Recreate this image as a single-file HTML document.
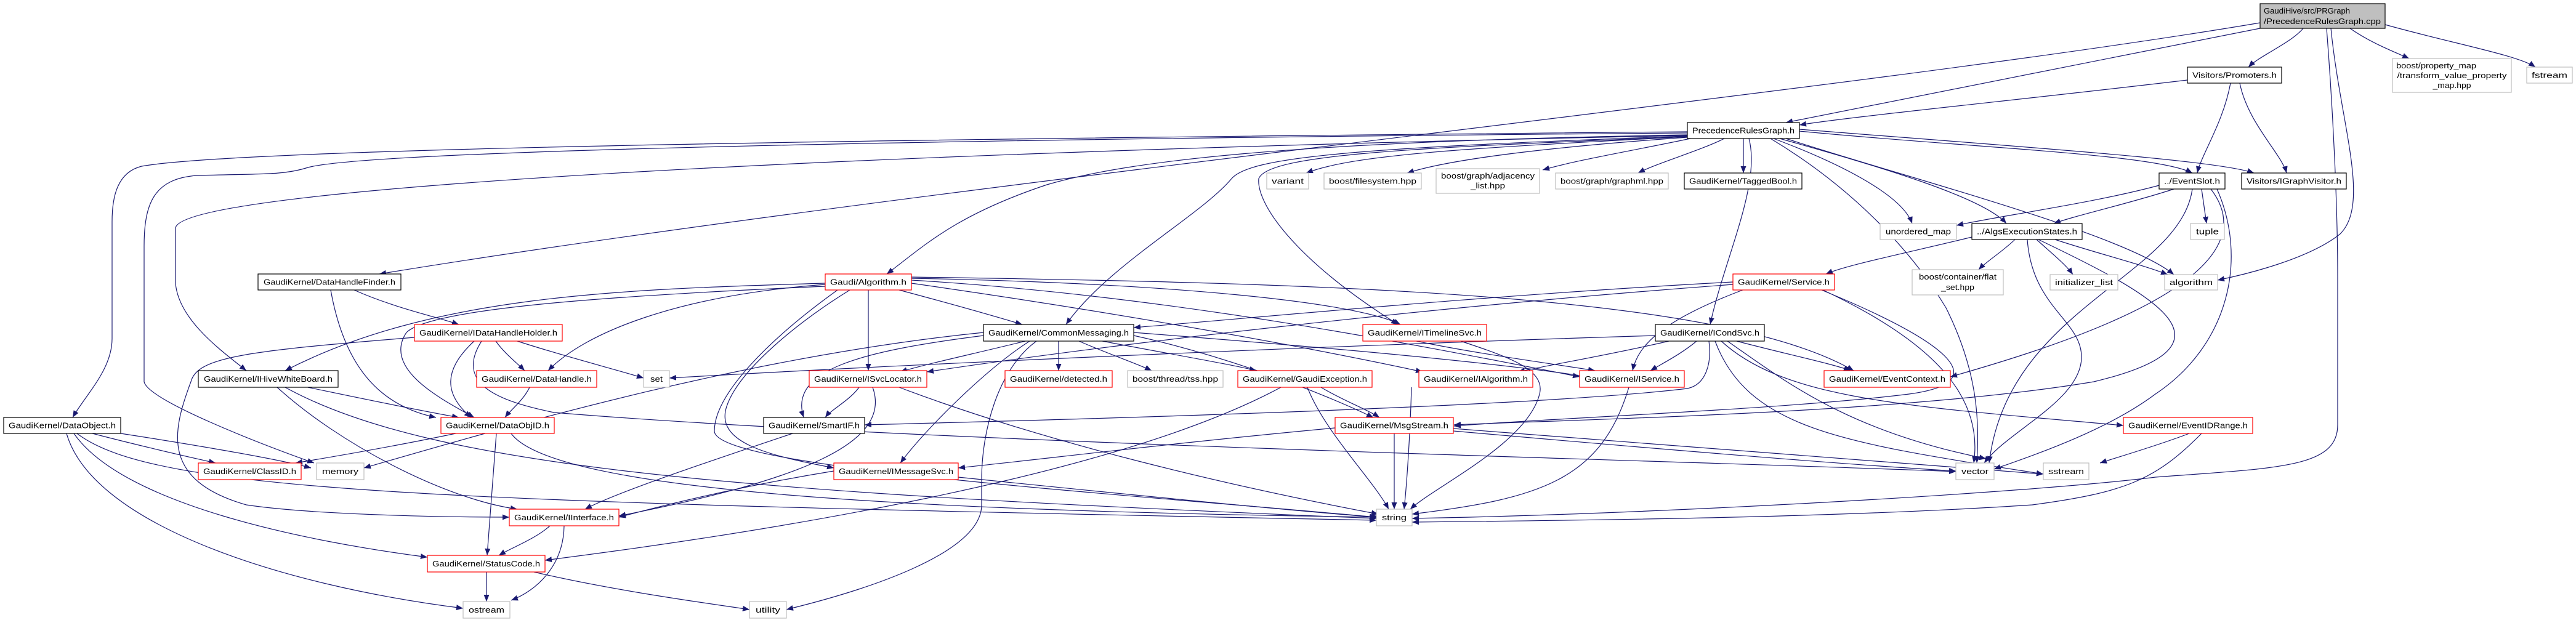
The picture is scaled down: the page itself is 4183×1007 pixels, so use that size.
<!DOCTYPE html>
<html><head><meta charset="utf-8"><style>
html,body{margin:0;padding:0;background:#fff;}
svg{display:block;}
text{font-family:"Liberation Sans","DejaVu Sans",sans-serif;font-size:13px;fill:#000;}
.e{fill:none;stroke:#191970;stroke-width:1.2;marker-end:url(#a);}
.r{fill:#fff;stroke:#ff0000;stroke-width:1.2;}
.b{fill:#fff;stroke:#000;stroke-width:1.2;}
.g{fill:#fff;stroke:#bfbfbf;stroke-width:1.2;}
</style></head><body>
<svg width="4183" height="1007" viewBox="0 0 4183 1007" xmlns="http://www.w3.org/2000/svg">
<defs><marker id="a" markerUnits="userSpaceOnUse" markerWidth="12" markerHeight="9" refX="11" refY="4.5" orient="auto"><path d="M0,0 L11,4.5 L0,9 z" fill="#191970"/></marker></defs>
<g>
<!-- root -->
<path class="e" d="M3740,46 C3720,70 3670,90 3651,109"/>
<path class="e" d="M3816,46 C3850,70 3890,85 3912,95"/>
<path class="e" d="M3873,40 C3980,70 4090,90 4117,109"/>
<path class="e" d="M3785,46 C3800,200 3850,330 3800,380 C3750,420 3650,445 3601,455"/>
<path class="e" d="M3778,46 C3790,200 3796,350 3796,450 L3796,690 C3796,760 3700,760 3500,775 C3300,800 2700,835 2293,842"/>
<path class="e" d="M3670,46 L2900,199"/>
<path class="e" d="M3670,37 C3000,150 1500,300 616,445"/>
<!-- promoters -->
<path class="e" d="M3552,130 C3300,160 3000,190 2922,203"/>
<path class="e" d="M3622,135 C3610,200 3575,250 3568,281"/>
<path class="e" d="M3637,135 C3650,200 3705,250 3713,281"/>
<!-- PRG -->
<path class="e" d="M2740,222 C2400,240 2200,250 2121,281"/>
<path class="e" d="M2740,223 C2500,240 2350,260 2285,281"/>
<path class="e" d="M2745,225 C2650,245 2560,260 2505,276"/>
<path class="e" d="M2800,225 C2760,245 2690,265 2660,281"/>
<path class="e" d="M2831,225 L2831,281"/>
<path class="e" d="M2922,213 C3200,240 3500,250 3560,281"/>
<path class="e" d="M2922,210 C3300,240 3600,260 3660,281"/>
<path class="e" d="M2880,225 C3000,270 3090,320 3105,363"/>
<path class="e" d="M2890,225 C3050,270 3220,320 3258,363"/>
<path class="e" d="M2900,225 C3100,290 3450,380 3530,446"/>
<path class="e" d="M2875,225 C3000,300 3100,400 3160,500 C3210,600 3215,680 3210,752"/>
<path class="e" d="M2840,225 C2860,300 2800,420 2777,527"/>
<path class="e" d="M2740,222 C2300,240 2060,250 2044,290 C2040,330 2100,420 2270,527"/>
<path class="e" d="M2740,221 C2200,240 2030,255 2000,290 C1950,350 1800,430 1731,527"/>
<path class="e" d="M2740,219 C2100,230 1837,260 1700,300 C1550,350 1500,400 1440,445"/>
<path class="e" d="M2740,214 C1500,225 400,240 230,270 C190,280 182,320 182,360 L182,550 C182,600 140,640 118,678"/>
<path class="e" d="M2740,216 C1500,226 600,245 500,272 C460,285 420,282 320,285 C250,290 234,330 234,400 L234,620 C240,650 420,720 510,752"/>
<path class="e" d="M2740,220 C1500,245 300,300 285,370 L285,460 C290,520 360,570 400,602"/>
<!-- EventSlot -->
<path class="e" d="M3510,300 C3400,330 3250,350 3177,366"/>
<path class="e" d="M3530,307 C3460,330 3370,350 3335,363"/>
<path class="e" d="M3575,307 L3583,363"/>
<path class="e" d="M3560,307 C3540,450 3260,500 3230,752"/>
<path class="e" d="M3590,307 C3700,450 3350,560 3167,612"/>
<path class="e" d="M3600,307 C3650,420 3620,560 3500,640 C3420,700 3300,740 3238,762"/>
<!-- AES -->
<path class="e" d="M3272,389 C3250,410 3225,425 3213,438"/>
<path class="e" d="M3307,389 C3330,410 3355,430 3366,446"/>
<path class="e" d="M3337,389 C3400,410 3480,430 3520,446"/>
<path class="e" d="M3292,389 C3300,500 3380,520 3380,580 C3380,650 3260,700 3222,752"/>
<path class="e" d="M3202,385 C3100,410 3000,430 2965,445"/>
<path class="e" d="M3310,389 C3500,480 3650,560 3400,620 C3100,670 2600,680 2361,690"/>
<!-- Service -->
<path class="e" d="M2814,458 C2400,480 2000,520 1841,532"/>
<path class="e" d="M2814,462 C2300,500 1800,560 1505,604"/>
<path class="e" d="M2830,471 C2700,520 2660,560 2651,602"/>
<path class="e" d="M2958,471 C3150,550 3250,620 3100,640 C2900,665 2500,680 2361,692"/>
<path class="e" d="M2960,471 C3150,560 3220,650 3205,752"/>
<!-- ICS -->
<path class="e" d="M2755,554 C2730,575 2700,590 2680,602"/>
<path class="e" d="M2710,554 C2620,575 2520,592 2465,604"/>
<path class="e" d="M2820,554 C2900,575 2980,592 3005,602"/>
<path class="e" d="M2688,545 C2200,560 1500,590 1087,614"/>
<path class="e" d="M2775,554 C2780,590 2770,625 2740,631 C2500,660 1800,680 1404,690"/>
<path class="e" d="M2785,554 C2840,700 3000,720 3318,770"/>
<path class="e" d="M2795,554 C2900,650 3100,660 3448,691"/>
<path class="e" d="M2805,554 C2900,620 3000,700 3225,745"/>
<!-- ITL -->
<path class="e" d="M2300,554 C2400,575 2530,592 2590,602"/>
<path class="e" d="M2372,554 C2450,580 2510,600 2500,640 C2480,720 2330,790 2290,827"/>
<!-- Algorithm -->
<path class="e" d="M1460,471 C1550,495 1620,515 1660,527"/>
<path class="e" d="M1410,471 L1410,602"/>
<path class="e" d="M1340,460 C1000,470 700,480 463,602"/>
<path class="e" d="M1340,465 C1000,480 700,500 660,540 C620,600 720,650 770,678"/>
<path class="e" d="M1340,462 C1100,480 950,540 890,602"/>
<path class="e" d="M1380,471 C1300,520 1200,600 1180,660 C1160,720 1250,740 1354,760"/>
<path class="e" d="M1480,460 C1900,520 2200,580 2310,604"/>
<path class="e" d="M1480,455 C1900,480 2300,560 2565,612"/>
<path class="e" d="M1480,452 C1900,460 2200,490 2274,527"/>
<path class="e" d="M1480,450 C2200,460 2800,480 3010,602"/>
<path class="e" d="M1360,471 C1250,550 1160,640 1160,700 C1160,760 1800,800 2235,840"/>
<!-- IDHH -->
<path class="e" d="M805,554 C820,575 840,590 852,602"/>
<path class="e" d="M840,554 C920,580 1000,600 1045,614"/>
<path class="e" d="M770,554 C720,600 720,640 765,678"/>
<path class="e" d="M673,548 C400,570 320,580 310,620 C280,700 260,780 400,820 C500,835 700,840 827,840"/>
<path class="e" d="M782,554 C740,620 800,650 900,670 C1500,720 2800,750 3176,766"/>
<!-- DHF -->
<path class="e" d="M575,471 C640,500 710,515 745,527"/>
<path class="e" d="M537,471 C560,600 620,660 708,678"/>
<!-- IHWB -->
<path class="e" d="M500,629 C600,650 700,670 745,678"/>
<path class="e" d="M450,629 C550,720 720,810 840,827"/>
<path class="e" d="M463,629 C700,760 1200,800 2235,842"/>
<!-- DH -->
<path class="e" d="M860,629 C850,650 830,665 820,678"/>
<!-- DO -->
<path class="e" d="M150,704 C250,730 320,745 350,752"/>
<path class="e" d="M196,704 C300,720 450,745 505,760"/>
<path class="e" d="M120,704 C200,820 500,880 694,905"/>
<path class="e" d="M108,704 C150,850 450,950 752,988"/>
<path class="e" d="M125,704 C250,800 700,815 2235,845"/>
<!-- DOID -->
<path class="e" d="M740,704 C640,725 540,742 480,752"/>
<path class="e" d="M806,704 C800,780 795,850 791,902"/>
<path class="e" d="M830,704 C900,800 1500,830 2240,840"/>
<!-- IInterface -->
<path class="e" d="M893,854 C870,875 830,890 810,902"/>
<path class="e" d="M916,854 C915,920 870,960 830,975"/>
<!-- StatusCode -->
<path class="e" d="M790,929 L790,977"/>
<path class="e" d="M867,929 C1000,960 1150,980 1217,990"/>
<!-- ISL -->
<path class="e" d="M1395,629 C1380,650 1350,665 1340,678"/>
<path class="e" d="M1417,629 C1450,720 1300,780 1005,838"/>
<path class="e" d="M1460,629 C1700,720 2000,790 2238,835"/>
<!-- CM -->
<path class="e" d="M1665,554 C1580,575 1500,592 1462,604"/>
<path class="e" d="M1597,545 C1400,570 1280,600 1305,678"/>
<path class="e" d="M1719,554 L1719,602"/>
<path class="e" d="M1752,554 C1800,575 1850,592 1870,602"/>
<path class="e" d="M1790,554 C1900,575 2000,592 2040,602"/>
<path class="e" d="M1672,554 C1600,600 1500,700 1462,752"/>
<path class="e" d="M1841,545 C2000,580 2150,640 2230,678"/>
<path class="e" d="M1683,554 C1620,600 1594,700 1594,780 L1594,820 C1594,900 1400,960 1277,990"/>
<path class="e" d="M1597,540 C1200,580 800,700 591,760"/>
<path class="e" d="M1841,540 C2100,560 2400,585 2580,612"/>
<!-- SmartIF / IMS / GE / others -->
<path class="e" d="M1287,704 C1150,750 1000,800 950,827"/>
<path class="e" d="M1354,765 C1200,790 1080,820 1005,840"/>
<path class="e" d="M1556,775 C1800,800 2100,830 2235,840"/>
<path class="e" d="M2145,629 C2180,650 2220,665 2240,678"/>
<path class="e" d="M2080,629 C1800,780 1200,870 885,910"/>
<path class="e" d="M2123,629 C2150,700 2230,780 2255,827"/>
<path class="e" d="M2292,629 C2290,700 2285,780 2280,827"/>
<path class="e" d="M2645,629 C2600,780 2500,810 2293,835"/>
<path class="e" d="M2264,704 L2264,827"/>
<path class="e" d="M2360,700 C2700,730 3000,755 3176,765"/>
<path class="e" d="M2360,696 C2800,730 3150,755 3318,770"/>
<path class="e" d="M2168,695 C1900,720 1700,745 1556,760"/>
<path class="e" d="M3555,704 C3500,725 3440,742 3410,752"/>
<path class="e" d="M3575,704 C3500,780 3450,800 3300,820 C3000,840 2600,845 2293,848"/>
</g>
<g>
<rect x="3670" y="6" width="203" height="40" fill="#bfbfbf" stroke="#000" stroke-width="1.2"/>
<text x="3676" y="22" textLength="140" lengthAdjust="spacingAndGlyphs">GaudiHive/src/PRGraph</text>
<text x="3676" y="39" textLength="190" lengthAdjust="spacingAndGlyphs">/PrecedenceRulesGraph.cpp</text>

<rect class="b" x="3552" y="109" width="153" height="26"/><text x="3628.5" y="126.5" text-anchor="middle" textLength="137" lengthAdjust="spacingAndGlyphs">Visitors/Promoters.h</text>
<rect class="g" x="3885" y="95" width="193" height="55"/>
<text x="3891" y="111" textLength="130" lengthAdjust="spacingAndGlyphs">boost/property_map</text>
<text x="3981.5" y="127" text-anchor="middle" textLength="178" lengthAdjust="spacingAndGlyphs">/transform_value_property</text>
<text x="3981.5" y="143" text-anchor="middle" textLength="62" lengthAdjust="spacingAndGlyphs">_map.hpp</text>
<rect class="g" x="4103" y="109" width="74" height="26"/><text x="4140" y="126.5" text-anchor="middle" textLength="58" lengthAdjust="spacingAndGlyphs">fstream</text>

<rect class="b" x="2740" y="199" width="182" height="26"/><text x="2831" y="216.5" text-anchor="middle" textLength="166" lengthAdjust="spacingAndGlyphs">PrecedenceRulesGraph.h</text>

<rect class="g" x="2057" y="281" width="68" height="26"/><text x="2091" y="298.5" text-anchor="middle" textLength="52" lengthAdjust="spacingAndGlyphs">variant</text>
<rect class="g" x="2150" y="281" width="158" height="26"/><text x="2229" y="298.5" text-anchor="middle" textLength="142" lengthAdjust="spacingAndGlyphs">boost/filesystem.hpp</text>
<rect class="g" x="2332" y="274" width="168" height="40"/><text x="2416" y="290" text-anchor="middle" textLength="152" lengthAdjust="spacingAndGlyphs">boost/graph/adjacency</text><text x="2416" y="306" text-anchor="middle" textLength="56" lengthAdjust="spacingAndGlyphs">_list.hpp</text>
<rect class="g" x="2526" y="281" width="183" height="26"/><text x="2617.5" y="298.5" text-anchor="middle" textLength="167" lengthAdjust="spacingAndGlyphs">boost/graph/graphml.hpp</text>
<rect class="b" x="2735" y="281" width="191" height="26"/><text x="2830.5" y="298.5" text-anchor="middle" textLength="175" lengthAdjust="spacingAndGlyphs">GaudiKernel/TaggedBool.h</text>
<rect class="b" x="3506" y="281" width="107" height="26"/><text x="3559.5" y="298.5" text-anchor="middle" textLength="91" lengthAdjust="spacingAndGlyphs">../EventSlot.h</text>
<rect class="b" x="3640" y="281" width="170" height="26"/><text x="3725" y="298.5" text-anchor="middle" textLength="154" lengthAdjust="spacingAndGlyphs">Visitors/IGraphVisitor.h</text>

<rect class="g" x="3053" y="363" width="124" height="26"/><text x="3115" y="380.5" text-anchor="middle" textLength="106" lengthAdjust="spacingAndGlyphs">unordered_map</text>
<rect class="b" x="3202" y="363" width="179" height="26"/><text x="3291.5" y="380.5" text-anchor="middle" textLength="163" lengthAdjust="spacingAndGlyphs">../AlgsExecutionStates.h</text>
<rect class="g" x="3557" y="363" width="55" height="26"/><text x="3584.5" y="380.5" text-anchor="middle" textLength="37" lengthAdjust="spacingAndGlyphs">tuple</text>

<rect class="b" x="419" y="445" width="232" height="26"/><text x="535" y="462.5" text-anchor="middle" textLength="214" lengthAdjust="spacingAndGlyphs">GaudiKernel/DataHandleFinder.h</text>
<rect class="r" x="1340" y="445" width="140" height="26"/><text x="1410" y="462.5" text-anchor="middle" textLength="124" lengthAdjust="spacingAndGlyphs">Gaudi/Algorithm.h</text>
<rect class="r" x="2814" y="445" width="165" height="26"/><text x="2896.5" y="462.5" text-anchor="middle" textLength="149" lengthAdjust="spacingAndGlyphs">GaudiKernel/Service.h</text>
<rect class="g" x="3105" y="438" width="148" height="41"/><text x="3179" y="454" text-anchor="middle" textLength="126" lengthAdjust="spacingAndGlyphs">boost/container/flat</text><text x="3179" y="471" text-anchor="middle" textLength="54" lengthAdjust="spacingAndGlyphs">_set.hpp</text>
<rect class="g" x="3329" y="446" width="110" height="25"/><text x="3384" y="463" text-anchor="middle" textLength="94" lengthAdjust="spacingAndGlyphs">initializer_list</text>
<rect class="g" x="3515" y="446" width="86" height="25"/><text x="3558" y="463" text-anchor="middle" textLength="70" lengthAdjust="spacingAndGlyphs">algorithm</text>

<rect class="r" x="673" y="527" width="240" height="27"/><text x="793" y="545" text-anchor="middle" textLength="224" lengthAdjust="spacingAndGlyphs">GaudiKernel/IDataHandleHolder.h</text>
<rect class="b" x="1597" y="527" width="244" height="27"/><text x="1719" y="545" text-anchor="middle" textLength="228" lengthAdjust="spacingAndGlyphs">GaudiKernel/CommonMessaging.h</text>
<rect class="r" x="2213" y="527" width="201" height="27"/><text x="2313.5" y="545" text-anchor="middle" textLength="185" lengthAdjust="spacingAndGlyphs">GaudiKernel/ITimelineSvc.h</text>
<rect class="b" x="2688" y="527" width="177" height="27"/><text x="2776.5" y="545" text-anchor="middle" textLength="161" lengthAdjust="spacingAndGlyphs">GaudiKernel/ICondSvc.h</text>

<rect class="b" x="322" y="602" width="227" height="27"/><text x="435.5" y="620" text-anchor="middle" textLength="209" lengthAdjust="spacingAndGlyphs">GaudiKernel/IHiveWhiteBoard.h</text>
<rect class="r" x="774" y="602" width="195" height="27"/><text x="871.5" y="620" text-anchor="middle" textLength="179" lengthAdjust="spacingAndGlyphs">GaudiKernel/DataHandle.h</text>
<rect class="g" x="1045" y="602" width="42" height="27"/><text x="1066" y="620" text-anchor="middle" textLength="20" lengthAdjust="spacingAndGlyphs">set</text>
<rect class="r" x="1314" y="602" width="191" height="27"/><text x="1409.5" y="620" text-anchor="middle" textLength="175" lengthAdjust="spacingAndGlyphs">GaudiKernel/ISvcLocator.h</text>
<rect class="r" x="1632" y="602" width="174" height="27"/><text x="1719" y="620" text-anchor="middle" textLength="158" lengthAdjust="spacingAndGlyphs">GaudiKernel/detected.h</text>
<rect class="g" x="1831" y="602" width="155" height="27"/><text x="1908.5" y="620" text-anchor="middle" textLength="139" lengthAdjust="spacingAndGlyphs">boost/thread/tss.hpp</text>
<rect class="r" x="2010" y="602" width="218" height="27"/><text x="2119" y="620" text-anchor="middle" textLength="202" lengthAdjust="spacingAndGlyphs">GaudiKernel/GaudiException.h</text>
<rect class="r" x="2304" y="602" width="185" height="27"/><text x="2396.5" y="620" text-anchor="middle" textLength="169" lengthAdjust="spacingAndGlyphs">GaudiKernel/IAlgorithm.h</text>
<rect class="r" x="2565" y="602" width="170" height="27"/><text x="2650" y="620" text-anchor="middle" textLength="154" lengthAdjust="spacingAndGlyphs">GaudiKernel/IService.h</text>
<rect class="r" x="2962" y="602" width="205" height="27"/><text x="3064.5" y="620" text-anchor="middle" textLength="189" lengthAdjust="spacingAndGlyphs">GaudiKernel/EventContext.h</text>

<rect class="b" x="6" y="678" width="190" height="26"/><text x="101" y="695.5" text-anchor="middle" textLength="174" lengthAdjust="spacingAndGlyphs">GaudiKernel/DataObject.h</text>
<rect class="r" x="716" y="678" width="184" height="26"/><text x="808" y="695.5" text-anchor="middle" textLength="168" lengthAdjust="spacingAndGlyphs">GaudiKernel/DataObjID.h</text>
<rect class="b" x="1240" y="678" width="164" height="26"/><text x="1322" y="695.5" text-anchor="middle" textLength="148" lengthAdjust="spacingAndGlyphs">GaudiKernel/SmartIF.h</text>
<rect class="r" x="2168" y="678" width="192" height="26"/><text x="2264" y="695.5" text-anchor="middle" textLength="176" lengthAdjust="spacingAndGlyphs">GaudiKernel/MsgStream.h</text>
<rect class="r" x="3448" y="678" width="210" height="26"/><text x="3553" y="695.5" text-anchor="middle" textLength="194" lengthAdjust="spacingAndGlyphs">GaudiKernel/EventIDRange.h</text>

<rect class="r" x="322" y="752" width="167" height="27"/><text x="405.5" y="770" text-anchor="middle" textLength="151" lengthAdjust="spacingAndGlyphs">GaudiKernel/ClassID.h</text>
<rect class="g" x="514" y="752" width="77" height="27"/><text x="552.5" y="770" text-anchor="middle" textLength="59" lengthAdjust="spacingAndGlyphs">memory</text>
<rect class="r" x="1354" y="752" width="202" height="27"/><text x="1455" y="770" text-anchor="middle" textLength="186" lengthAdjust="spacingAndGlyphs">GaudiKernel/IMessageSvc.h</text>
<rect class="g" x="3176" y="752" width="62" height="27"/><text x="3207" y="770" text-anchor="middle" textLength="44" lengthAdjust="spacingAndGlyphs">vector</text>
<rect class="g" x="3318" y="752" width="74" height="27"/><text x="3355" y="770" text-anchor="middle" textLength="58" lengthAdjust="spacingAndGlyphs">sstream</text>

<rect class="r" x="827" y="827" width="178" height="27"/><text x="916" y="845" text-anchor="middle" textLength="162" lengthAdjust="spacingAndGlyphs">GaudiKernel/IInterface.h</text>
<rect class="g" x="2235" y="827" width="58" height="27"/><text x="2264" y="845" text-anchor="middle" textLength="40" lengthAdjust="spacingAndGlyphs">string</text>

<rect class="r" x="694" y="902" width="191" height="27"/><text x="789.5" y="920" text-anchor="middle" textLength="175" lengthAdjust="spacingAndGlyphs">GaudiKernel/StatusCode.h</text>

<rect class="g" x="752" y="977" width="76" height="27"/><text x="790" y="995" text-anchor="middle" textLength="58" lengthAdjust="spacingAndGlyphs">ostream</text>
<rect class="g" x="1217" y="977" width="60" height="27"/><text x="1247" y="995" text-anchor="middle" textLength="40" lengthAdjust="spacingAndGlyphs">utility</text>
</g>
</svg>
</body></html>
